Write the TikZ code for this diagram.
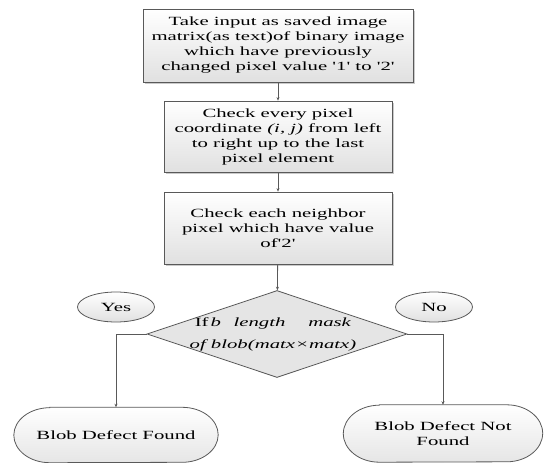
\documentclass[tikz,border=0pt]{standalone}
\usepackage{fontspec}
\newfontfamily\wideserif[FakeStretch=1.66]{Liberation Serif}
\usetikzlibrary{shapes.geometric,shadows,arrows.meta}
\begin{document}
\begin{tikzpicture}[x=1pt,y=-1pt,
  every node/.style={font=\wideserif\fontsize{12.5}{15}\selectfont, align=center, inner sep=0pt},
  frame/.style={draw=black!65, line width=0.8pt},
  stepbox/.style={frame, rectangle, top color=white, bottom color=black!12,
    drop shadow={shadow xshift=1.6pt, shadow yshift=-1.6pt, fill=black!35, opacity=0.6}},
  decide/.style={frame, diamond, fill=black!10, minimum width=260pt, minimum height=87pt, aspect=3},
  tag/.style={frame, ellipse, top color=white, bottom color=black!12,
    minimum width=77pt, minimum height=30pt},
  endshape/.style={frame, top color=white, bottom color=black!10},
  flow/.style={draw=black!65, line width=0.8pt, -{Stealth[length=3.5pt,width=3pt]}}
]
\path[use as bounding box] (0,0) rectangle (544,463);

% terminator outline with elliptical ends around a named node
\newcommand\terminator[3]{%
  \path[endshape] ([xshift=#2]#1.north west) -- ([xshift=-#2]#1.north east)
    arc[start angle=90, end angle=-90, x radius=#2, y radius=#3]
    -- ([xshift=#2]#1.south west)
    arc[start angle=270, end angle=90, x radius=#2, y radius=#3] -- cycle;}

% process steps
\node[stepbox, minimum width=270pt, minimum height=73pt] (input) at (278,45.5)
  {Take input as saved image\\ matrix(as text)of binary image\\ which have previously\\ changed pixel value '1' to '2'};
\node[stepbox, minimum width=228pt, minimum height=71pt] (scan) at (278,136.5)
  {Check every pixel\\ coordinate \textit{(i, j)} from left\\ to right up to the last\\ pixel element};
\node[stepbox, minimum width=228pt, minimum height=72pt] (neigh) at (278,228)
  {Check each neighbor\\ pixel which have value\\ of'2'};

% decision
\node[decide] (test) at (277,334) {};
\node at (273,334) {If\,\textit{b\quad length\quad\ \ mask}\\[7pt] \textit{of blob(matx×matx)}};

% branch labels
\node[tag] (yes) at (116,307) {Yes};
\node[tag] (no) at (434,307) {No};

% outcomes
\node[minimum width=204pt, minimum height=55pt] (found) at (116,435) {};
\terminator{found}{36pt}{27.5pt}
\node at (found) {Blob Defect Found};
\node[minimum width=199pt, minimum height=57pt] (notfound) at (443,433.5) {};
\terminator{notfound}{36pt}{28.5pt}
\node at (notfound) {Blob Defect Not\\ Found};

% connectors
\draw[flow] (input) -- (scan);
\draw[flow] (scan) -- (neigh);
\draw[flow] (neigh) -- (test);
\draw[flow] (test.west) -| (found.north);
\draw[flow] (test.east) -| (notfound.north);
\end{tikzpicture}
\end{document}
